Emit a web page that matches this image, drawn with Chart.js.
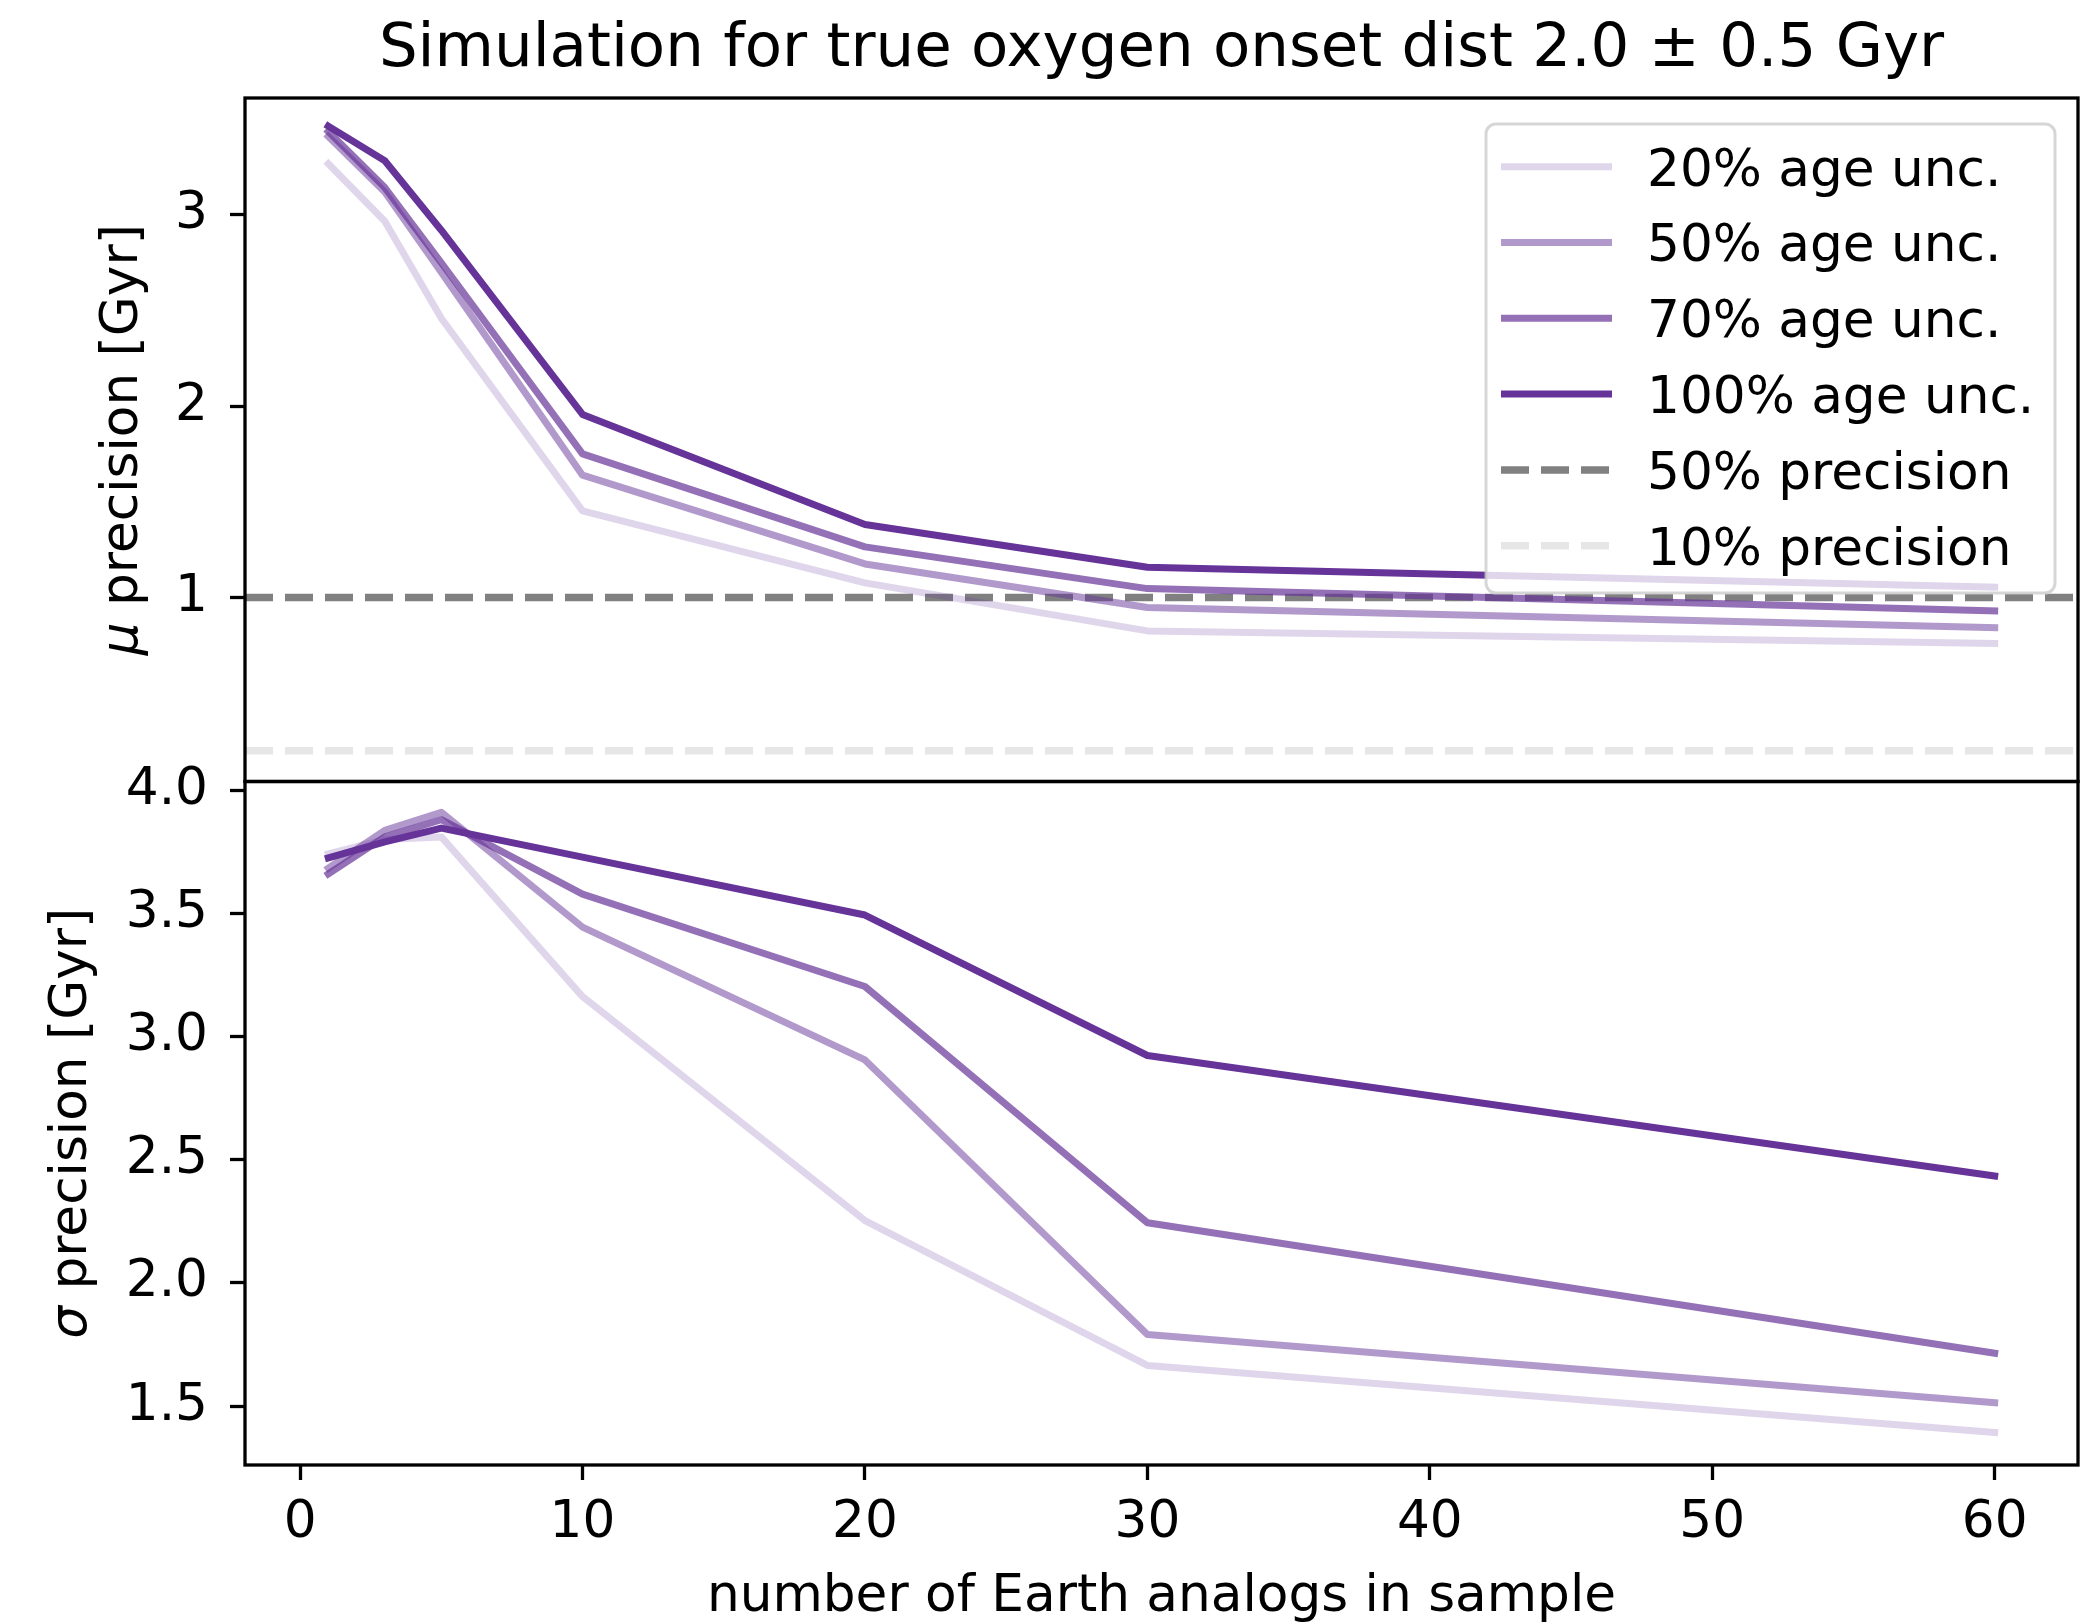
<!DOCTYPE html>
<html>
<head>
<meta charset="utf-8">
<script src="https://cdn.jsdelivr.net/npm/chart.js@4.4.1/dist/chart.umd.min.js"></script>
<style>
  html, body { margin: 0; padding: 0; background: #ffffff; }
  canvas { display: block; }
</style>
</head>
<body>
<canvas id="chart" width="2100" height="1624"></canvas>
<script>
// ---------------- data ----------------
const sampleSizes = [1, 3, 5, 10, 20, 30, 60];

const ageUncLabels = ['20% age unc.', '50% age unc.', '70% age unc.', '100% age unc.'];
const ageUncAlpha  = [0.2, 0.5, 0.7, 1.0];

// mu precision [Gyr] (top panel)
const muPrec20  = [3.267, 2.967, 2.46, 1.453, 1.077, 0.826, 0.760];
const muPrec50  = [3.410, 3.120, 2.70, 1.640, 1.176, 0.948, 0.843];
const muPrec70  = [3.436, 3.143, 2.75, 1.751, 1.265, 1.047, 0.930];
const muPrec100 = [3.464, 3.283, 2.92, 1.957, 1.382, 1.159, 1.054];

// sigma precision [Gyr] (bottom panel)
const sigmaPrec20  = [3.741, 3.800, 3.810, 3.162, 2.253, 1.665, 1.393];
const sigmaPrec50  = [3.683, 3.837, 3.910, 3.444, 2.905, 1.791, 1.514];
const sigmaPrec70  = [3.660, 3.810, 3.880, 3.578, 3.203, 2.244, 1.715];
const sigmaPrec100 = [3.725, 3.790, 3.846, 3.728, 3.493, 2.923, 2.434];

const precisionLabels = ['50% precision', '10% precision'];
const precisionValues = [1.0, 0.2];

const xTicks     = [0, 10, 20, 30, 40, 50, 60];
const muTicks    = [1, 2, 3];
const sigmaTicks = [1.5, 2.0, 2.5, 3.0, 3.5, 4.0];

const xRange     = [-1.95, 62.95];
const muRange    = [0.039, 3.611];
const sigmaRange = [1.261, 4.035];

const titleText  = 'Simulation for true oxygen onset dist 2.0 ± 0.5 Gyr';
const xTitleText = 'number of Earth analogs in sample';
const muTitle    = ['μ', ' precision [Gyr]'];
const sigmaTitle = ['σ', ' precision [Gyr]'];

// ---------------- styles ----------------
const FONT = "'DejaVu Sans', sans-serif";
const FS = 51.7;        // label / tick / legend font size
const FS_TITLE = 61;
const purple = a => `rgba(102,51,153,${a})`;
const LW = 7;

const toPts = ys => sampleSizes.map((x, i) => ({ x: x, y: ys[i] }));

const muSeries = [muPrec20, muPrec50, muPrec70, muPrec100];
const sigmaSeries = [sigmaPrec20, sigmaPrec50, sigmaPrec70, sigmaPrec100];

const datasets = [];
muSeries.forEach((ys, i) => datasets.push({
  label: ageUncLabels[i], data: toPts(ys), yAxisID: 'yMu',
  borderColor: purple(ageUncAlpha[i]), backgroundColor: purple(ageUncAlpha[i]),
  borderWidth: LW, pointRadius: 0, tension: 0, fill: false,
  borderCapStyle: 'square', borderJoinStyle: 'round',
  order: 4 - i, inLegend: true
}));
precisionValues.forEach((v, i) => datasets.push({
  label: precisionLabels[i],
  data: [{ x: xRange[0], y: v }, { x: xRange[1], y: v }], yAxisID: 'yMu',
  borderColor: i === 0 ? 'rgb(128,128,128)' : 'rgba(128,128,128,0.2)',
  borderWidth: 7.5, borderDash: [28, 12], pointRadius: 0, fill: false,
  borderCapStyle: 'butt', order: 10 + i, inLegend: true
}));
sigmaSeries.forEach((ys, i) => datasets.push({
  label: ageUncLabels[i], data: toPts(ys), yAxisID: 'ySig',
  borderColor: purple(ageUncAlpha[i]), backgroundColor: purple(ageUncAlpha[i]),
  borderWidth: LW, pointRadius: 0, tension: 0, fill: false,
  borderCapStyle: 'square', borderJoinStyle: 'round',
  order: 4 - i, inLegend: false
}));

// ---------------- plugins ----------------
const framePlugin = {
  id: 'panelFrames',
  afterDatasetsDraw(chart) {
    const ctx = chart.ctx, a = chart.chartArea;
    ctx.save();
    ctx.strokeStyle = '#000';
    ctx.lineWidth = 3.3;
    ['yMu', 'ySig'].forEach(id => {
      const s = chart.scales[id];
      ctx.strokeRect(a.left, s.top, a.right - a.left, s.bottom - s.top);
    });
    ctx.restore();
  }
};

const yTitlePlugin = {
  id: 'yTitles',
  afterDraw(chart) {
    const ctx = chart.ctx, a = chart.chartArea;
    const items = [
      { scale: chart.scales.yMu, parts: muTitle, offset: 121 },
      { scale: chart.scales.ySig, parts: sigmaTitle, offset: 172 }
    ];
    ctx.save();
    ctx.fillStyle = '#000';
    ctx.textBaseline = 'middle';
    ctx.textAlign = 'left';
    items.forEach(it => {
      const cy = (it.scale.top + it.scale.bottom) / 2;
      const cx = a.left - it.offset;
      ctx.font = `italic ${FS}px ${FONT}`;
      const w0 = ctx.measureText(it.parts[0]).width;
      ctx.font = `${FS}px ${FONT}`;
      const w1 = ctx.measureText(it.parts[1]).width;
      const W = w0 + w1;
      ctx.save();
      ctx.translate(cx, cy);
      ctx.rotate(-Math.PI / 2);
      ctx.font = `italic ${FS}px ${FONT}`;
      ctx.fillText(it.parts[0], -W / 2, 0);
      ctx.font = `${FS}px ${FONT}`;
      ctx.fillText(it.parts[1], -W / 2 + w0, 0);
      ctx.restore();
    });
    ctx.restore();
  }
};

function roundRectPath(ctx, x, y, w, h, r) {
  ctx.beginPath();
  ctx.moveTo(x + r, y);
  ctx.lineTo(x + w - r, y);
  ctx.arcTo(x + w, y, x + w, y + r, r);
  ctx.lineTo(x + w, y + h - r);
  ctx.arcTo(x + w, y + h, x + w - r, y + h, r);
  ctx.lineTo(x + r, y + h);
  ctx.arcTo(x, y + h, x, y + h - r, r);
  ctx.lineTo(x, y + r);
  ctx.arcTo(x, y, x + r, y, r);
  ctx.closePath();
}

const legendPlugin = {
  id: 'panelLegend',
  afterDraw(chart) {
    const ctx = chart.ctx, a = chart.chartArea;
    const items = chart.data.datasets.filter(d => d.inLegend);
    const boxW = 569, boxH = 469;
    const bx = a.right - 23 - boxW, by = a.top + 26;
    ctx.save();
    roundRectPath(ctx, bx, by, boxW, boxH, 10);
    ctx.fillStyle = 'rgba(255,255,255,0.8)';
    ctx.fill();
    ctx.lineWidth = 3;
    ctx.strokeStyle = 'rgba(204,204,204,0.8)';
    ctx.stroke();
    items.forEach((d, i) => {
      const cy = by + 42.7 + i * 75.8;
      ctx.beginPath();
      ctx.moveTo(bx + 15, cy);
      ctx.lineTo(bx + 126, cy);
      ctx.strokeStyle = d.borderColor;
      ctx.lineWidth = d.borderWidth;
      ctx.lineCap = 'butt';
      ctx.setLineDash(d.borderDash || []);
      ctx.stroke();
      ctx.setLineDash([]);
      ctx.fillStyle = '#000';
      ctx.font = `${FS}px ${FONT}`;
      ctx.textBaseline = 'alphabetic';
      ctx.textAlign = 'left';
      ctx.fillText(d.label, bx + 161, cy + 18.8);
    });
    ctx.restore();
  }
};

// ---------------- chart ----------------
const tickFont = { family: FONT, size: FS };
const gridOpts = { display: true, drawOnChartArea: false, drawTicks: true,
                   tickLength: 15, tickWidth: 3.3, tickColor: '#000' };

new Chart(document.getElementById('chart'), {
  type: 'line',
  data: { datasets: datasets },
  options: {
    responsive: false,
    animation: false,
    devicePixelRatio: 1,
    layout: { padding: { left: 0, right: 22, top: 0, bottom: 0 } },
    plugins: {
      legend: { display: false },
      tooltip: { enabled: false },
      title: {
        display: true, text: titleText, fullSize: false,
        font: { family: FONT, size: FS_TITLE, weight: 'normal' }, color: '#000',
        padding: { top: 13.8, bottom: 11 }
      }
    },
    scales: {
      x: {
        type: 'linear', position: 'bottom', min: xRange[0], max: xRange[1],
        afterBuildTicks: s => { s.ticks = xTicks.map(v => ({ value: v })); },
        afterFit: s => { s.height = 159; },
        grid: gridOpts, border: { display: false },
        ticks: { font: tickFont, color: '#000', padding: 13, maxRotation: 0, autoSkip: false,
                 callback: v => String(v) },
        title: { display: true, text: xTitleText, font: { family: FONT, size: FS }, color: '#000',
                 padding: { top: 0, bottom: -5 } }
      },
      ySig: {
        type: 'linear', position: 'left', stack: 'panels', stackWeight: 1,
        min: sigmaRange[0], max: sigmaRange[1],
        afterBuildTicks: s => { s.ticks = sigmaTicks.map(v => ({ value: v })); },
        afterFit: s => { s.width = 245; },
        grid: gridOpts, border: { display: false },
        ticks: { font: tickFont, color: '#000', padding: 22, autoSkip: false,
                 callback: v => v.toFixed(1) }
      },
      yMu: {
        type: 'linear', position: 'left', stack: 'panels', stackWeight: 1,
        min: muRange[0], max: muRange[1],
        afterBuildTicks: s => { s.ticks = muTicks.map(v => ({ value: v })); },
        afterFit: s => { s.width = 245; },
        grid: gridOpts, border: { display: false },
        ticks: { font: tickFont, color: '#000', padding: 22, autoSkip: false,
                 callback: v => v.toFixed(0) }
      }
    }
  },
  plugins: [framePlugin, yTitlePlugin, legendPlugin]
});
</script>
</body>
</html>
